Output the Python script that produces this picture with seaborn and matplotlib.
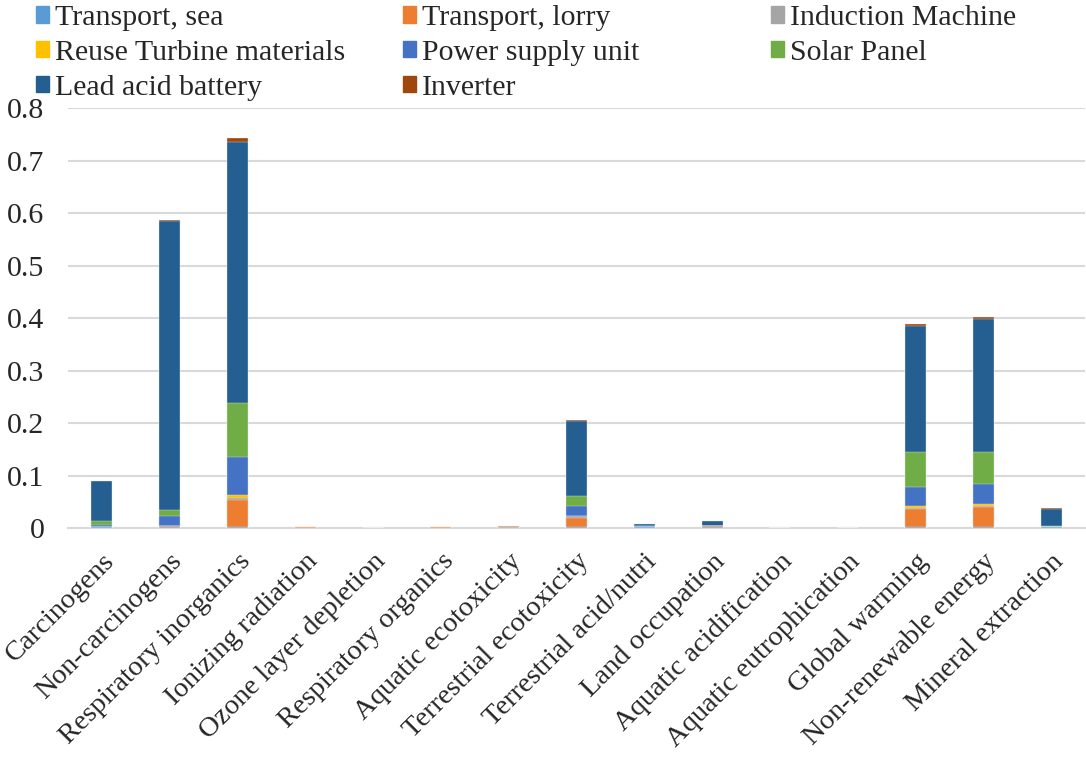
import numpy as np
import seaborn as sns
import matplotlib.pyplot as plt

categories = ['Carcinogens', 'Non-carcinogens', 'Respiratory inorganics', 'Ionizing radiation',
              'Ozone layer depletion', 'Respiratory organics', 'Aquatic ecotoxicity',
              'Terrestrial ecotoxicity', 'Terrestrial acid/nutri', 'Land occupation',
              'Aquatic acidification', 'Aquatic eutrophication', 'Global warming',
              'Non-renewable energy', 'Mineral extraction']

# stacking order, bottom to top
components = ['Transport, sea', 'Transport, lorry', 'Induction Machine', 'Reuse Turbine materials',
              'Power supply unit', 'Solar Panel', 'Lead acid battery', 'Inverter']
colors = ['#5B9BD5', '#ED7D31', '#A5A5A5', '#FFC000', '#4472C4', '#70AD47', '#255E91', '#9E480E']

transport_sea = [0.001, 0.001, 0.001, 0.0, 0.0, 0.0, 0.0005, 0.001, 0.001, 0.002, 0.0, 0.0, 0.001, 0.001, 0.001]
transport_lorry = [0.001, 0.003, 0.053, 0.001, 0.0, 0.001, 0.0005, 0.019, 0.001, 0.001, 0.0, 0.0, 0.035, 0.039, 0.0005]
induction_machine = [0.0005, 0.0005, 0.003, 0.0005, 0.0, 0.0003, 0.0, 0.002, 0.0005, 0.0005, 0.0, 0.0, 0.003, 0.002, 0.001]
reuse_turbine = [0.0, 0.0, 0.005, 0.0, 0.0, 0.0, 0.0, 0.001, 0.0, 0.0, 0.0, 0.0, 0.003, 0.003, 0.0]
power_supply = [0.004, 0.018, 0.074, 0.0, 0.0, 0.0, 0.0003, 0.019, 0.0005, 0.0005, 0.0, 0.0, 0.037, 0.038, 0.0003]
solar_panel = [0.006, 0.011, 0.103, 0.0, 0.0, 0.0, 0.0002, 0.019, 0.0005, 0.0005, 0.0, 0.0, 0.065, 0.062, 0.0002]
lead_acid = [0.077, 0.551, 0.496, 0.0005, 0.0002, 0.0003, 0.003, 0.142, 0.004, 0.008, 0.0, 0.0, 0.240, 0.253, 0.034]
inverter = [0.001, 0.003, 0.007, 0.0, 0.0, 0.0, 0.0, 0.003, 0.0, 0.0, 0.0, 0.0, 0.005, 0.004, 0.0005]

series = [transport_sea, transport_lorry, induction_machine, reuse_turbine,
          power_supply, solar_panel, lead_acid, inverter]

sns.set_theme(style='white')
plt.rcParams['font.family'] = ['Liberation Serif', 'DejaVu Serif']

fig = plt.figure(figsize=(10.86, 7.58), dpi=100)
ax = fig.add_axes([0.0626, 0.3034, 0.9364, 0.5541])

cum = np.cumsum(np.array(series), axis=0)
# draw from the top layer down so lower layers overlay the taller bars
for i in range(len(components) - 1, -1, -1):
    sns.barplot(x=categories, y=cum[i], color=colors[i], width=0.31, ax=ax,
                edgecolor='#F2F2F2', linewidth=0.25, saturation=1, zorder=3)

ax.set_ylim(0, 0.8)
ax.set_xlim(-0.5, len(categories) - 0.5)
ticks = [0, 0.1, 0.2, 0.3, 0.4, 0.5, 0.6, 0.7, 0.8]
ax.set_yticks(ticks, ['0'] + [f'{t:.1f}' for t in ticks[1:]])
ax.yaxis.grid(True, color='#D9D9D9', linewidth=1.5, zorder=0)
ax.set_axisbelow(True)
for s in ['left', 'right', 'top']:
    ax.spines[s].set_visible(False)
ax.spines['bottom'].set_color('#D9D9D9')
ax.spines['bottom'].set_linewidth(1.5)
ax.tick_params(axis='y', labelsize=21.5, length=0, pad=17)
ax.tick_params(axis='x', labelsize=20.5, length=0, pad=15)
ax.set_xticks(range(len(categories)))
ax.set_xticklabels(categories, rotation=45, ha='right', rotation_mode='anchor')
ax.set_xlabel('')
ax.set_ylabel('')

# legend laid out row by row in three equal-width columns
handles = [plt.Rectangle((0, 0), 1, 1, color=c) for c in colors]
col_x = [0.022, 0.36, 0.699]
for col in range(3):
    idx = list(range(col, len(components), 3))
    fig.legend([handles[k] for k in idx], [components[k] for k in idx],
               loc='upper left', bbox_to_anchor=(col_x[col], 1.009), frameon=False,
               fontsize=21.5, handlelength=0.45, handleheight=0.45, handletextpad=0.2,
               labelspacing=0.3, borderaxespad=0)

fig.savefig('out.png', dpi=100)
